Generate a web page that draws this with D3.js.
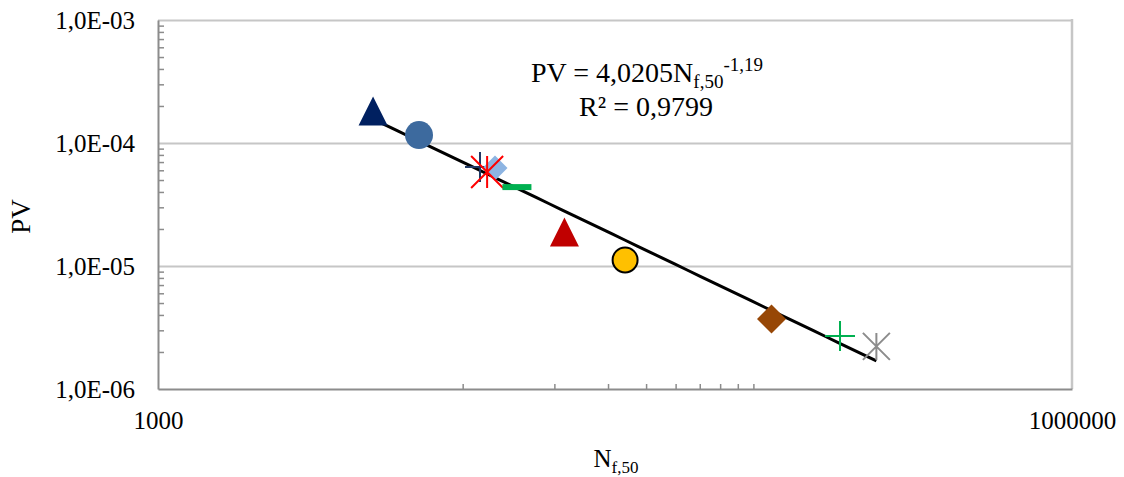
<!DOCTYPE html>
<html>
<head>
<meta charset="utf-8">
<script src="https://cdn.jsdelivr.net/npm/d3@7"></script>
<style>
  html, body { margin: 0; padding: 0; background: #fff; }
  svg { display: block; font-family: "Liberation Serif", "Times New Roman", serif; }
</style>
</head>
<body>
<svg id="chart" width="1124" height="477"></svg>
<script>
// Fatigue life N_f,50 versus PV, one marker per material
const materials = ["M1", "M2", "M3", "M4", "M5", "M6", "M7", "M8", "M9", "M10", "M11"];
const nf50 = [5080, 7190, 11400, 12770, 12030, 15070, 21580, 34130, 103200, 173200, 228000];
const pv = [1.80e-4, 1.16e-4, 6.38e-5, 6.27e-5, 5.81e-5, 4.38e-5, 1.87e-5, 1.12e-5, 3.71e-6, 2.70e-6, 2.22e-6];
const markerShapes = ["triangle", "circle", "plus", "diamond", "star", "dash", "triangle", "circle", "diamond", "plus", "star"];
const markerColors = ["#002060", "#3D6A9E", "#1F3864", "#8DB4E2", "#FF0000", "#00B050", "#C00000", "#FFC000", "#974706", "#00B050", "#8C8C8C"];

// power-law fit PV = a * N^b
const fitA = 4.0205;
const fitB = -1.19;
const fitR2 = "0,9799";

const xTicks = [1e3, 1e6];
const xMinorTicks = [1e4, 2e4, 3e4, 4e4, 5e4, 6e4, 7e4, 8e4, 9e4];
const yTicks = [1e-6, 1e-5, 1e-4, 1e-3];

const svg = d3.select("#chart");
const plotL = 158, plotR = 1072, plotT = 20, plotB = 389;

const x = d3.scaleLog().domain([1e3, 1e6]).range([plotL, plotR]);
const y = d3.scaleLog().domain([1e-6, 1e-3]).range([plotB, plotT]);

const yMinorTicks = [];
[-6, -5, -4].forEach(e => { for (let k = 2; k <= 9; k++) yMinorTicks.push(k * Math.pow(10, e)); });

const sciFmt = v => {
  const e = Math.round(Math.log10(v));
  const m = v / Math.pow(10, e);
  const sign = e < 0 ? "-" : "+";
  return m.toFixed(1).replace(".", ",") + "E" + sign + String(Math.abs(e)).padStart(2, "0");
};

const serif = "'Liberation Serif', 'Times New Roman', serif";

// horizontal gridlines (including the top edge)
svg.append("g")
  .attr("transform", `translate(${plotL},0)`)
  .call(d3.axisLeft(y).tickValues(yTicks.slice(1)).tickSize(-(plotR - plotL)).tickFormat(""))
  .call(g => g.select(".domain").remove())
  .call(g => g.selectAll("line").attr("stroke", "#C6C6C6").attr("stroke-width", 2));

// right border of the plot area
svg.append("line")
  .attr("x1", plotR).attr("x2", plotR).attr("y1", plotT - 1).attr("y2", plotB)
  .attr("stroke", "#C6C6C6").attr("stroke-width", 2.5);

// y minor ticks (inside)
svg.append("g")
  .attr("transform", `translate(${plotL},0)`)
  .call(d3.axisRight(y).tickValues(yMinorTicks).tickSize(6).tickFormat(""))
  .call(g => g.select(".domain").remove())
  .call(g => g.selectAll("line").attr("stroke", "#8C8C8C").attr("stroke-width", 1.5));

// x minor ticks (inside)
svg.append("g")
  .attr("transform", `translate(0,${plotB})`)
  .call(d3.axisTop(x).tickValues(xMinorTicks).tickSize(5).tickFormat(""))
  .call(g => g.select(".domain").remove())
  .call(g => g.selectAll("line").attr("stroke", "#8C8C8C").attr("stroke-width", 1.5));

// y axis with labels
svg.append("g")
  .attr("transform", `translate(${plotL},0)`)
  .call(d3.axisLeft(y).tickValues(yTicks).tickSize(0).tickPadding(23).tickFormat(sciFmt))
  .call(g => g.select(".domain").attr("stroke", "#8C8C8C").attr("stroke-width", 2))
  .call(g => g.selectAll("text").attr("font-size", 25).attr("fill", "#000").attr("font-family", serif));

// x axis with labels
svg.append("g")
  .attr("transform", `translate(0,${plotB})`)
  .call(d3.axisBottom(x).tickValues(xTicks).tickSize(0).tickPadding(22).tickFormat(d3.format("d")))
  .call(g => g.select(".domain").attr("stroke", "#8C8C8C").attr("stroke-width", 2))
  .call(g => g.selectAll("text").attr("font-size", 25).attr("fill", "#000").attr("font-family", serif));

// axis titles
svg.append("text")
  .attr("transform", `translate(30,${(plotT + plotB) / 2 + 12}) rotate(-90)`)
  .attr("text-anchor", "middle")
  .attr("font-size", 27)
  .text("PV");

const xt = svg.append("text")
  .attr("x", 616).attr("y", 467)
  .attr("text-anchor", "middle")
  .attr("font-size", 25);
xt.append("tspan").text("N");
xt.append("tspan").attr("font-size", 17).attr("dy", 6).text("f,50");

// trendline over the data range
const xMin = d3.min(nf50), xMax = d3.max(nf50);
const fitPts = d3.range(0, 41).map(i => {
  const n = xMin * Math.pow(xMax / xMin, i / 40);
  return [n, fitA * Math.pow(n, fitB)];
});
svg.append("path")
  .datum(fitPts)
  .attr("fill", "none")
  .attr("stroke", "#000")
  .attr("stroke-width", 3)
  .attr("d", d3.line().x(d => x(d[0])).y(d => y(d[1])));

// markers
function drawMarker(g, shape, color) {
  switch (shape) {
    case "triangle":
      g.append("path").attr("d", "M0,-15 L14.5,14 L-14.5,14 Z").attr("fill", color);
      break;
    case "circle":
      if (color === "#FFC000")
        g.append("circle").attr("r", 12.5).attr("fill", color).attr("stroke", "#000").attr("stroke-width", 2);
      else
        g.append("circle").attr("r", 14).attr("fill", color);
      break;
    case "diamond": {
      const s = color === "#974706" ? 14.5 : 12.5;
      g.append("path").attr("d", `M0,${-s} L${s},0 L0,${s} L${-s},0 Z`).attr("fill", color);
      break;
    }
    case "plus":
      g.append("path").attr("d", "M-15,0 L15,0 M0,-15 L0,15")
        .attr("stroke", color).attr("stroke-width", 2).attr("fill", "none");
      break;
    case "star": {
      const s = color === "#FF0000" ? 16 : 13.5;
      g.append("path").attr("d", `M${-s},${-s} L${s},${s} M${-s},${s} L${s},${-s} M0,${-s} L0,${s}`)
        .attr("stroke", color).attr("stroke-width", 2).attr("fill", "none");
      break;
    }
    case "dash":
      g.append("rect").attr("x", -14.5).attr("y", -3).attr("width", 29).attr("height", 6).attr("fill", color);
      break;
  }
}

const pts = svg.append("g");
nf50.forEach((n, i) => {
  const g = pts.append("g")
    .attr("class", "pt " + materials[i])
    .attr("transform", `translate(${x(n)},${y(pv[i])})`);
  drawMarker(g, markerShapes[i], markerColors[i]);
});

// fit equation label
const eq = svg.append("text")
  .attr("x", 647).attr("y", 82)
  .attr("text-anchor", "middle")
  .attr("font-size", 28);
eq.append("tspan").text("PV = " + fitA.toFixed(4).replace(".", ",") + "N");
eq.append("tspan").attr("font-size", 19).attr("dy", 6).text("f,50");
eq.append("tspan").attr("font-size", 19).attr("dy", -17).text(String(fitB).replace(".", ","));
svg.append("text")
  .attr("x", 646).attr("y", 116)
  .attr("text-anchor", "middle")
  .attr("font-size", 28)
  .text("R² = " + fitR2);
</script>
</body>
</html>
